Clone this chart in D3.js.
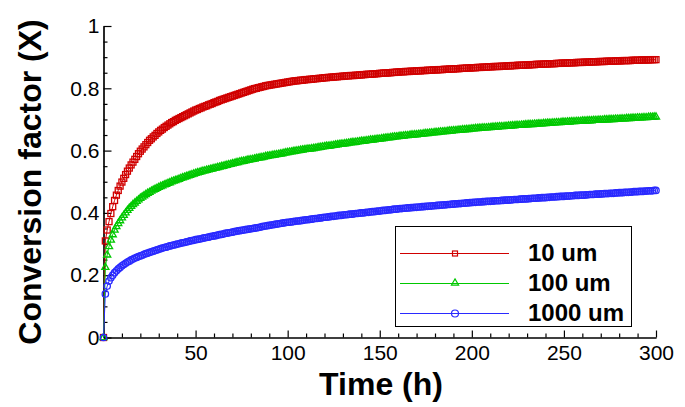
<!DOCTYPE html>
<html>
<head>
<meta charset="utf-8">
<script src="https://cdn.jsdelivr.net/npm/d3@7"></script>
<style>
  body { margin: 0; background: #fff; }
  svg { display: block; }
</style>
</head>
<body>
<svg width="685" height="407"></svg>
<script>
// time samples (h), one every hour
var hours = [
  0,1,2,3,4,5,6,7,8,9,10,11,12,13,14,15,16,17,18,19,
  20,21,22,23,24,25,26,27,28,29,30,31,32,33,34,35,36,37,38,39,
  40,41,42,43,44,45,46,47,48,49,50,51,52,53,54,55,56,57,58,59,
  60,61,62,63,64,65,66,67,68,69,70,71,72,73,74,75,76,77,78,79,
  80,81,82,83,84,85,86,87,88,89,90,91,92,93,94,95,96,97,98,99,
  100,101,102,103,104,105,106,107,108,109,110,111,112,113,114,115,116,117,118,119,
  120,121,122,123,124,125,126,127,128,129,130,131,132,133,134,135,136,137,138,139,
  140,141,142,143,144,145,146,147,148,149,150,151,152,153,154,155,156,157,158,159,
  160,161,162,163,164,165,166,167,168,169,170,171,172,173,174,175,176,177,178,179,
  180,181,182,183,184,185,186,187,188,189,190,191,192,193,194,195,196,197,198,199,
  200,201,202,203,204,205,206,207,208,209,210,211,212,213,214,215,216,217,218,219,
  220,221,222,223,224,225,226,227,228,229,230,231,232,233,234,235,236,237,238,239,
  240,241,242,243,244,245,246,247,248,249,250,251,252,253,254,255,256,257,258,259,
  260,261,262,263,264,265,266,267,268,269,270,271,272,273,274,275,276,277,278,279,
  280,281,282,283,284,285,286,287,288,289,290,291,292,293,294,295,296,297,298,299,
  300
];

// 10 um
var x10 = [
  0,0.310,0.345,0.372,0.398,0.420,0.440,0.457,0.472,0.486,
  0.499,0.511,0.523,0.534,0.544,0.554,0.563,0.572,0.581,0.590,
  0.598,0.605,0.612,0.619,0.626,0.633,0.638,0.644,0.649,0.655,
  0.660,0.665,0.669,0.674,0.678,0.682,0.686,0.690,0.693,0.697,
  0.700,0.703,0.706,0.709,0.712,0.715,0.718,0.721,0.724,0.727,
  0.730,0.732,0.735,0.737,0.740,0.742,0.744,0.747,0.749,0.751,
  0.754,0.756,0.758,0.761,0.763,0.765,0.767,0.769,0.771,0.773,
  0.775,0.777,0.779,0.781,0.783,0.785,0.787,0.789,0.791,0.793,
  0.795,0.797,0.799,0.800,0.802,0.803,0.805,0.806,0.808,0.809,
  0.810,0.811,0.812,0.813,0.814,0.815,0.816,0.817,0.818,0.819,
  0.820,0.821,0.822,0.823,0.824,0.824,0.825,0.826,0.826,0.827,
  0.828,0.828,0.829,0.829,0.830,0.831,0.831,0.832,0.832,0.833,
  0.834,0.834,0.835,0.835,0.836,0.836,0.837,0.837,0.838,0.838,
  0.839,0.839,0.840,0.840,0.841,0.841,0.841,0.842,0.842,0.843,
  0.843,0.844,0.844,0.845,0.845,0.845,0.846,0.846,0.847,0.847,
  0.848,0.848,0.849,0.849,0.849,0.850,0.850,0.851,0.851,0.852,
  0.852,0.853,0.853,0.853,0.854,0.854,0.854,0.855,0.855,0.855,
  0.856,0.856,0.856,0.857,0.857,0.857,0.858,0.858,0.858,0.859,
  0.859,0.859,0.860,0.860,0.860,0.861,0.861,0.861,0.862,0.862,
  0.862,0.863,0.863,0.863,0.864,0.864,0.864,0.865,0.865,0.865,
  0.866,0.866,0.866,0.867,0.867,0.867,0.868,0.868,0.868,0.869,
  0.869,0.869,0.870,0.870,0.870,0.870,0.871,0.871,0.871,0.872,
  0.872,0.872,0.873,0.873,0.873,0.874,0.874,0.874,0.874,0.875,
  0.875,0.875,0.876,0.876,0.876,0.877,0.877,0.877,0.877,0.878,
  0.878,0.878,0.879,0.879,0.879,0.879,0.880,0.880,0.880,0.881,
  0.881,0.881,0.881,0.882,0.882,0.882,0.882,0.883,0.883,0.883,
  0.883,0.884,0.884,0.884,0.884,0.885,0.885,0.885,0.885,0.886,
  0.886,0.886,0.886,0.887,0.887,0.887,0.887,0.887,0.888,0.888,
  0.888,0.888,0.889,0.889,0.889,0.889,0.889,0.890,0.890,0.890,
  0.890,0.890,0.891,0.891,0.891,0.891,0.891,0.892,0.892,0.892,
  0.892
];

// 100 um
var x100 = [
  0,0.225,0.265,0.292,0.313,0.330,0.345,0.356,0.366,0.375,
  0.384,0.392,0.400,0.408,0.415,0.421,0.427,0.432,0.437,0.442,
  0.447,0.451,0.455,0.459,0.463,0.466,0.470,0.473,0.476,0.479,
  0.482,0.485,0.487,0.490,0.492,0.495,0.497,0.500,0.502,0.504,
  0.506,0.508,0.511,0.513,0.515,0.517,0.519,0.521,0.523,0.525,
  0.527,0.529,0.530,0.532,0.534,0.535,0.537,0.538,0.540,0.541,
  0.543,0.544,0.546,0.547,0.549,0.550,0.552,0.553,0.555,0.556,
  0.558,0.559,0.561,0.562,0.564,0.565,0.566,0.567,0.569,0.570,
  0.571,0.572,0.573,0.575,0.576,0.577,0.578,0.579,0.581,0.582,
  0.583,0.584,0.585,0.586,0.587,0.588,0.589,0.590,0.592,0.593,
  0.594,0.595,0.596,0.597,0.598,0.599,0.600,0.601,0.602,0.603,
  0.604,0.605,0.605,0.606,0.607,0.608,0.609,0.610,0.611,0.612,
  0.613,0.614,0.614,0.615,0.616,0.617,0.618,0.619,0.620,0.621,
  0.621,0.622,0.623,0.624,0.625,0.626,0.626,0.627,0.628,0.629,
  0.630,0.630,0.631,0.632,0.633,0.634,0.634,0.635,0.636,0.637,
  0.637,0.638,0.639,0.640,0.641,0.641,0.642,0.643,0.644,0.644,
  0.645,0.646,0.646,0.647,0.648,0.648,0.649,0.650,0.650,0.651,
  0.651,0.652,0.653,0.653,0.654,0.655,0.655,0.656,0.657,0.657,
  0.658,0.658,0.659,0.660,0.660,0.661,0.661,0.662,0.663,0.663,
  0.664,0.664,0.665,0.666,0.666,0.667,0.667,0.668,0.668,0.669,
  0.670,0.670,0.671,0.671,0.672,0.672,0.673,0.673,0.673,0.674,
  0.674,0.675,0.675,0.676,0.676,0.677,0.677,0.677,0.678,0.678,
  0.679,0.679,0.680,0.680,0.681,0.681,0.681,0.682,0.682,0.683,
  0.683,0.684,0.684,0.684,0.685,0.685,0.686,0.686,0.686,0.687,
  0.687,0.688,0.688,0.688,0.689,0.689,0.690,0.690,0.690,0.691,
  0.691,0.691,0.692,0.692,0.693,0.693,0.693,0.694,0.694,0.694,
  0.695,0.695,0.695,0.696,0.696,0.696,0.697,0.697,0.697,0.698,
  0.698,0.698,0.699,0.699,0.699,0.700,0.700,0.700,0.701,0.701,
  0.701,0.702,0.702,0.702,0.703,0.703,0.703,0.704,0.704,0.704,
  0.705,0.705,0.705,0.706,0.706,0.706,0.707,0.707,0.707,0.708,
  0.708
];

// 1000 um
var x1000 = [
  0,0.140,0.165,0.181,0.192,0.200,0.208,0.214,0.220,0.225,
  0.230,0.234,0.238,0.242,0.245,0.249,0.252,0.255,0.257,0.260,
  0.262,0.264,0.267,0.269,0.271,0.273,0.275,0.277,0.279,0.281,
  0.283,0.285,0.287,0.289,0.290,0.292,0.294,0.295,0.297,0.298,
  0.300,0.301,0.303,0.304,0.305,0.307,0.308,0.310,0.311,0.312,
  0.314,0.315,0.316,0.317,0.319,0.320,0.321,0.322,0.324,0.325,
  0.326,0.327,0.329,0.330,0.331,0.332,0.334,0.335,0.336,0.337,
  0.338,0.340,0.341,0.342,0.343,0.344,0.345,0.346,0.347,0.348,
  0.349,0.350,0.351,0.352,0.353,0.354,0.356,0.357,0.358,0.359,
  0.360,0.361,0.362,0.363,0.364,0.365,0.366,0.367,0.368,0.369,
  0.370,0.370,0.371,0.372,0.373,0.374,0.374,0.375,0.376,0.377,
  0.378,0.378,0.379,0.380,0.381,0.382,0.382,0.383,0.384,0.385,
  0.386,0.386,0.387,0.388,0.389,0.389,0.390,0.391,0.392,0.392,
  0.393,0.394,0.394,0.395,0.396,0.396,0.397,0.398,0.398,0.399,
  0.400,0.400,0.401,0.402,0.402,0.403,0.404,0.404,0.405,0.406,
  0.406,0.407,0.408,0.408,0.409,0.410,0.410,0.411,0.412,0.412,
  0.413,0.414,0.414,0.415,0.415,0.416,0.416,0.417,0.417,0.418,
  0.418,0.419,0.419,0.420,0.420,0.421,0.421,0.422,0.422,0.423,
  0.423,0.424,0.424,0.425,0.425,0.426,0.426,0.427,0.427,0.428,
  0.428,0.429,0.429,0.430,0.430,0.431,0.431,0.432,0.432,0.433,
  0.433,0.434,0.434,0.435,0.435,0.435,0.436,0.436,0.437,0.437,
  0.437,0.438,0.438,0.439,0.439,0.439,0.440,0.440,0.441,0.441,
  0.441,0.442,0.442,0.443,0.443,0.443,0.444,0.444,0.445,0.445,
  0.445,0.446,0.446,0.447,0.447,0.447,0.448,0.448,0.449,0.449,
  0.449,0.450,0.450,0.451,0.451,0.451,0.452,0.452,0.453,0.453,
  0.453,0.454,0.454,0.454,0.455,0.455,0.456,0.456,0.456,0.457,
  0.457,0.457,0.458,0.458,0.459,0.459,0.459,0.460,0.460,0.460,
  0.461,0.461,0.462,0.462,0.462,0.463,0.463,0.463,0.464,0.464,
  0.465,0.465,0.465,0.466,0.466,0.466,0.467,0.467,0.468,0.468,
  0.468,0.469,0.469,0.469,0.470,0.470,0.471,0.471,0.471,0.472,
  0.472
];

var seriesNames = ["10 um", "100 um", "1000 um"];
var xTicks = [50, 100, 150, 200, 250, 300];
var xMinorTicks = [10, 20, 30, 40, 60, 70, 80, 90, 110, 120, 130, 140, 160, 170, 180, 190,
                   210, 220, 230, 240, 260, 270, 280, 290];
var yTicks = [0, 0.2, 0.4, 0.6, 0.8, 1];
var yMinorTicks = [0.05, 0.1, 0.15, 0.25, 0.3, 0.35, 0.45, 0.5, 0.55, 0.65, 0.7, 0.75, 0.85, 0.9, 0.95];

var svg = d3.select("svg");
var font = "'Liberation Sans', Arial, sans-serif";

var x = d3.scaleLinear().domain([0, 300]).range([103.5, 656]);
var y = d3.scaleLinear().domain([0, 1]).range([337.5, 26]);

var series = [
  { name: seriesNames[0], values: x10, color: "#d00000", marker: "square" },
  { name: seriesNames[1], values: x100, color: "#00c800", marker: "triangle" },
  { name: seriesNames[2], values: x1000, color: "#2a2aff", marker: "circle" }
];

// axes: minor ticks first, then labelled ticks
function styleAxis(g) {
  g.selectAll("path, line").attr("stroke", "#000").attr("stroke-width", 1.2);
  g.selectAll("text")
    .attr("fill", "#000")
    .attr("font-family", font)
    .attr("font-size", 21);
}

svg.append("g")
  .attr("transform", "translate(0,337.5)")
  .call(d3.axisBottom(x).tickValues(xMinorTicks).tickSize(-4).tickSizeOuter(0).tickFormat(""))
  .call(styleAxis);

svg.append("g")
  .attr("transform", "translate(0,337.5)")
  .call(d3.axisBottom(x).tickValues(xTicks).tickSize(-7).tickSizeOuter(0).tickPadding(8))
  .call(styleAxis);

svg.append("g")
  .attr("transform", "translate(103.5,0)")
  .call(d3.axisLeft(y).tickValues(yMinorTicks).tickSize(-4).tickSizeOuter(0).tickFormat(""))
  .call(styleAxis);

svg.append("g")
  .attr("transform", "translate(103.5,0)")
  .call(d3.axisLeft(y).tickValues(yTicks).tickSize(-8).tickSizeOuter(0).tickPadding(4)
    .tickFormat(function (d) { return d3.format("")(d); }))
  .call(styleAxis);

// axis titles
svg.append("text")
  .attr("x", 381)
  .attr("y", 395)
  .attr("text-anchor", "middle")
  .attr("font-family", font)
  .attr("font-weight", "bold")
  .attr("font-size", 32)
  .text("Time (h)");

svg.append("text")
  .attr("transform", "translate(41,182) rotate(-90)")
  .attr("text-anchor", "middle")
  .attr("font-family", font)
  .attr("font-weight", "bold")
  .attr("font-size", 32)
  .text("Conversion factor (X)");

var line = d3.line()
  .x(function (d) { return x(d.t); })
  .y(function (d) { return y(d.v); });

var triangle = d3.symbol().type(d3.symbolTriangle).size(22);

function drawMarkers(g, pts, s) {
  if (s.marker === "square") {
    g.selectAll("rect").data(pts).enter().append("rect")
      .attr("x", function (d) { return x(d.t) - 3; })
      .attr("y", function (d) { return y(d.v) - 3; })
      .attr("width", 6)
      .attr("height", 6);
  } else if (s.marker === "triangle") {
    g.selectAll("path").data(pts).enter().append("path")
      .attr("d", triangle)
      .attr("transform", function (d) { return "translate(" + x(d.t) + "," + y(d.v) + ")"; });
  } else {
    g.selectAll("circle").data(pts).enter().append("circle")
      .attr("cx", function (d) { return x(d.t); })
      .attr("cy", function (d) { return y(d.v); })
      .attr("r", 3.2);
  }
}

series.forEach(function (s) {
  var pts = s.values.map(function (v, i) { return { t: hours[i], v: v }; });
  var g = svg.append("g");
  g.append("path")
    .datum(pts)
    .attr("fill", "none")
    .attr("stroke", s.color)
    .attr("stroke-width", 1)
    .attr("d", line);
  var m = g.append("g")
    .attr("fill", "none")
    .attr("stroke", s.color)
    .attr("stroke-width", 1.3);
  drawMarkers(m, pts, s);
});

// legend
var legend = svg.append("g");
legend.append("rect")
  .attr("x", 395.5)
  .attr("y", 226.5)
  .attr("width", 236)
  .attr("height", 100)
  .attr("fill", "#fff")
  .attr("stroke", "#000")
  .attr("stroke-width", 1);

var rowY = [253, 283, 313];
series.forEach(function (s, i) {
  var row = legend.append("g").attr("transform", "translate(0," + rowY[i] + ")");
  row.append("line")
    .attr("x1", 400).attr("x2", 509)
    .attr("y1", 0.5).attr("y2", 0.5)
    .attr("stroke", s.color)
    .attr("stroke-width", 1);
  var m = row.append("g")
    .attr("fill", "none")
    .attr("stroke", s.color)
    .attr("stroke-width", 1.2);
  if (s.marker === "square") {
    m.append("rect").attr("x", 452.5).attr("y", -2).attr("width", 5).attr("height", 5);
  } else if (s.marker === "triangle") {
    m.append("path").attr("d", d3.symbol().type(d3.symbolTriangle).size(22))
      .attr("transform", "translate(455,0)");
  } else {
    m.append("circle").attr("cx", 455).attr("cy", 0.5).attr("r", 3.5);
  }
  row.append("text")
    .attr("x", 528)
    .attr("y", 0)
    .attr("dy", "0.35em")
    .attr("font-family", font)
    .attr("font-weight", "bold")
    .attr("font-size", 24)
    .attr("fill", "#000")
    .text(s.name);
});
</script>
</body>
</html>
